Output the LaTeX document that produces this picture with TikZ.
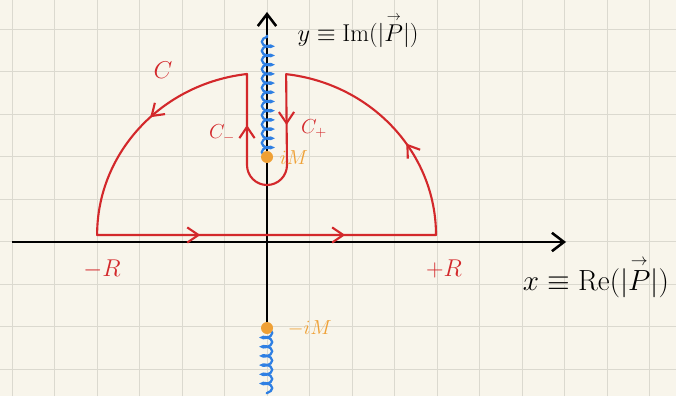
\documentclass[tikz,border=0pt]{standalone}
\usepackage{amsmath, amssymb}
\usepackage{tikz}
\usetikzlibrary{arrows.meta, decorations.pathmorphing, decorations.markings}
\definecolor{Paper}{HTML}{F8F5EB}
\definecolor{Grid}{HTML}{DBD9CF}
\definecolor{Contour}{HTML}{D3282B}
\definecolor{Cut}{HTML}{2E7FE3}
\definecolor{Pole}{HTML}{EFA035}
\newcommand{\momvec}{\overset{\scriptscriptstyle\rightarrow}{P}}

\begin{document}
\begin{tikzpicture}[
          x=0.025cm, y=0.025cm,
          font=\Large,
          gridline/.style={draw=Grid, line width=0.7pt},
          axis/.style={line width=1.8pt, black, -{Straight Barb[length=3mm, width=4.6mm]}},
          cut/.style={draw=Cut, line width=1.6pt, decorate, decoration={coil, aspect=0.5, amplitude=1.3mm, segment length=2.3mm}},
          contour/.style={color=Contour, line width=1.5pt, line join=round, postaction={decorate},
            decoration={markings,
              mark=at position 0.097 with {\arrow{Straight Barb[length=2.8mm, width=3.8mm]}},
              mark=at position 0.233 with {\arrow{Straight Barb[length=2.8mm, width=3.8mm]}},
              mark=at position 0.41 with {\arrow{Straight Barb[length=2.8mm, width=3.8mm]}},
              mark=at position 0.592 with {\arrow{Straight Barb[length=2.8mm, width=3.8mm]}},
              mark=at position 0.726 with {\arrow{Straight Barb[length=2.8mm, width=3.8mm]}},
              mark=at position 0.875 with {\arrow{Straight Barb[length=2.8mm, width=3.8mm]}}}},
          redlabel/.style={text=Contour},
          polelabel/.style={text=Pole, anchor=west}
        ]
          \fill[Paper] (0,0) rectangle (676,396);
          \useasboundingbox (0,0) rectangle (676,396);
          \foreach \gx in {0,...,15}
            \draw[gridline] ({12+42.5*\gx},0) -- ({12+42.5*\gx},396);
          \foreach \gy in {0,...,8}
            \draw[gridline] (0,{27+42.5*\gy}) -- (676,{27+42.5*\gy});

          \coordinate (xl) at (12,154);
          \coordinate (xr) at (566,154);
          \coordinate (ytop) at (267,384);
          \coordinate (iM) at (267,239);
          \coordinate (miM) at (267,68);
          \coordinate (cuttop) at (267,361);
          \coordinate (cutbot) at (267,2);
          \coordinate (mR) at (97,161);
          \coordinate (pR) at (436,161);

          \draw[axis] (xl) -- (xr);
          \draw[axis] (miM) -- (ytop);

          \draw[cut] (iM) -- (cuttop);
          \draw[cut] (miM) -- (cutbot);

          \draw[contour] (mR) -- (pR)
            arc[start angle=0, end angle=83.2, x radius=170, y radius=162] -- (287,231)
            arc[start angle=0, end angle=-180, radius=20] -- (247,322)
            arc[start angle=96.8, end angle=180, x radius=170, y radius=162] -- cycle;

          \fill[Pole] (iM) circle[radius=6];
          \fill[Pole] (miM) circle[radius=6];

          \node[redlabel, font=\LARGE] (c) at (163,326) {$C$};
          \node[redlabel] (cm) at (222,262) {$C_-$};
          \node[redlabel] (cp) at (314,267) {$C_+$};
          \node[redlabel, font=\LARGE] (lr) at (102,127) {$-R$};
          \node[redlabel, font=\LARGE] (rr) at (444,127) {$+R$};
          \node[polelabel] (pm) at (275,238) {$iM$};
          \node[polelabel] (mpm) at (283,68) {$-iM$};
          \node[font=\huge] (xlab) at (596,119) {$x \equiv \mathrm{Re}(|\momvec|)$};
          \node[font=\LARGE] (ylab) at (358,366) {$y \equiv \mathrm{Im}(|\momvec|)$};
        \end{tikzpicture}
\end{document}
